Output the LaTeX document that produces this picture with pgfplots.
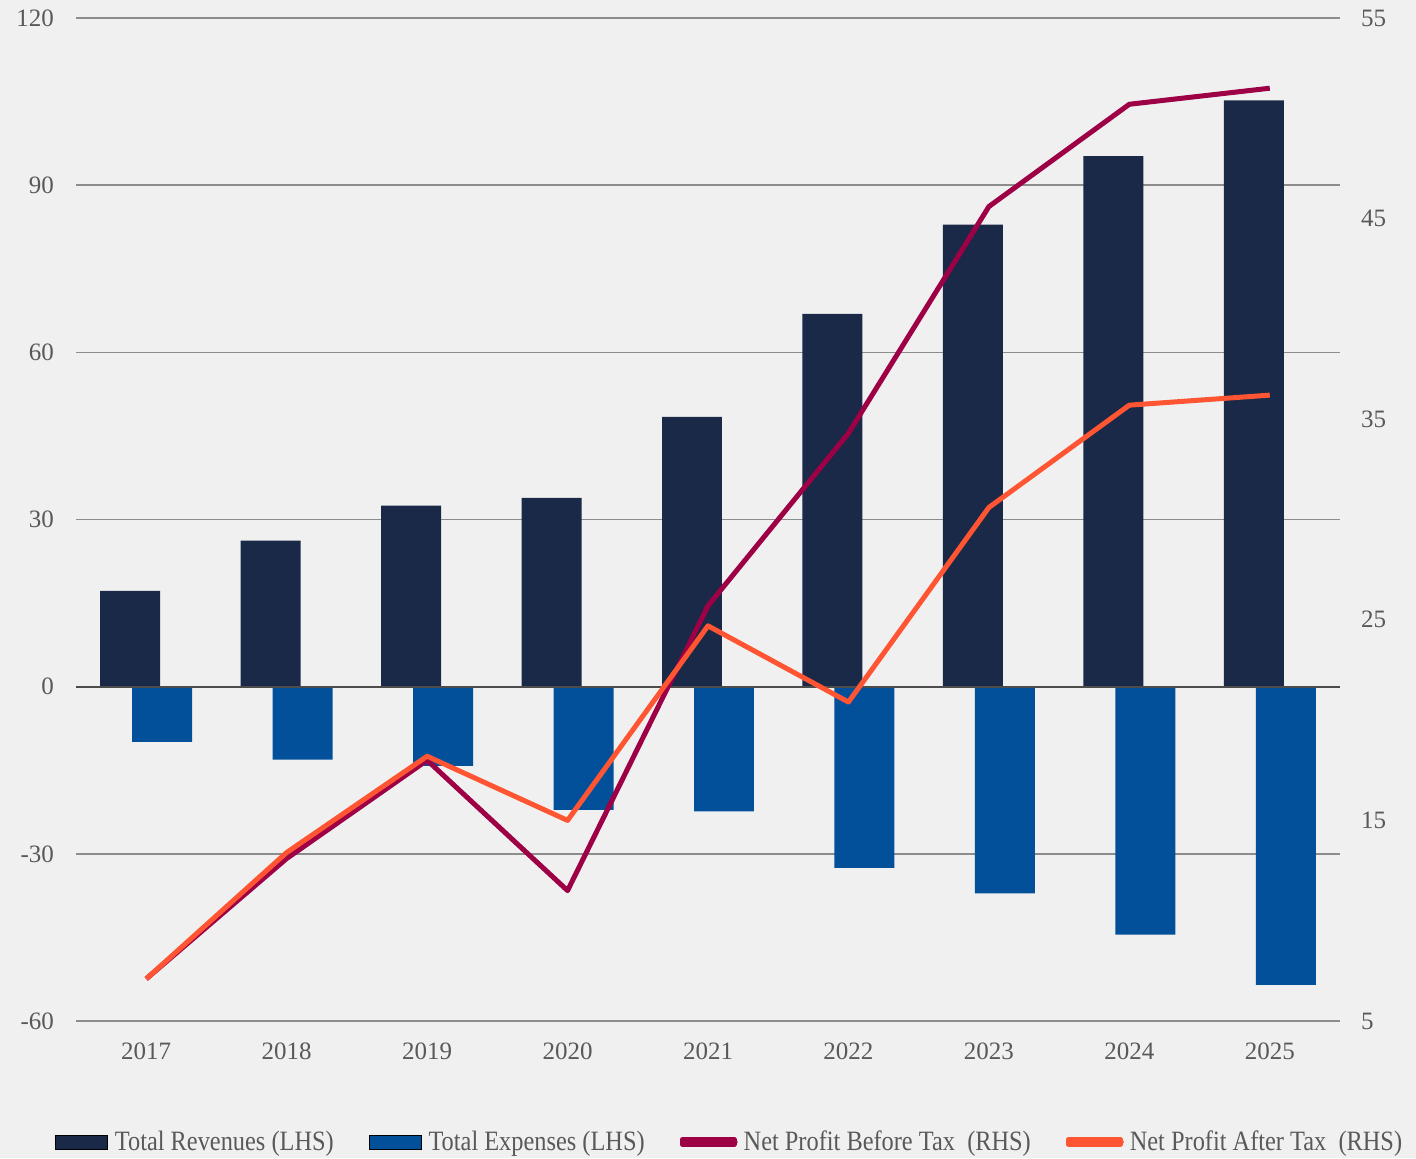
\documentclass[border=0pt]{standalone}
\usepackage{fontspec}
\setmainfont{Liberation Serif}
\newfontfamily\legfont[FakeStretch=0.87]{Liberation Serif}
\usepackage{pgfplots}
\usepackage{pgfplotstable}
\pgfplotsset{compat=1.18}

\definecolor{bg}{HTML}{F0F0F0}
\definecolor{rev}{HTML}{1A2947}
\definecolor{expc}{HTML}{02509A}
\definecolor{pbt}{HTML}{9E0045}
\definecolor{pat}{HTML}{FF5533}
\definecolor{txt}{HTML}{595959}
\definecolor{gridc}{HTML}{8C8C8C}

\pgfplotstableread{
x rev exp pbt pat
0 17.2 -9.9 7.1 7.1
1 26.2 -13.1 13.1 13.4
2 32.5 -14.2 18.0 18.2
3 33.9 -22.1 11.5 15.0
4 48.4 -22.4 25.7 24.7
5 66.9 -32.5 34.3 20.9
6 82.9 -37.1 45.6 30.6
7 95.2 -44.5 50.7 35.7
8 105.2 -53.5 51.5 36.2
}\data

\pgfplotsset{
  base/.style={
    scale only axis, width=632pt, height=501.5pt,
    at={(38pt,68.5pt)}, anchor=south west,
    xmin=-0.5, xmax=8.5,
    axis line style={draw=none},
    major tick length=0pt,
    tick label style={font=\fontsize{12.5}{14}\selectfont, text=txt},
    /pgf/number format/assume math mode=true,
  },
  barleg/.style={legend image code/.code={\fill[##1] (0pt,-3.5pt) rectangle (26pt,3.5pt);}},
  lineleg/.style={legend image code/.code={%
    \draw[##1, overlay, line width=2.3pt, line cap=round] (1.15pt,0pt) -- (26.6pt,0pt);
    \path (0pt,-1.2pt) rectangle (26pt,1.2pt);}},
}

\begin{document}
\begin{tikzpicture}
\fill[bg] (0,0) rectangle (708pt,579pt);

\begin{axis}[base,
  ymin=-60, ymax=120, ytick={-60,-30,0,30,60,90,120},
  ymajorgrids, grid style={gridc, line width=0.75pt},
  xtick=data, xticklabels={2017,2018,2019,2020,2021,2022,2023,2024,2025},
  xticklabel style={yshift=-7.5pt},
  yticklabel style={xshift=-7.5pt},
  yticklabels={-60,-30,0,30,60,90,120},
]
\addplot[ybar, bar width=0.427, bar shift=-0.114, fill=rev, draw=none] table[x=x, y=rev] {\data};
\addplot[ybar, bar width=0.427, bar shift=0.114, fill=expc, draw=none] table[x=x, y=exp] {\data};
\draw[color=black!70, line width=1pt] (axis cs:-0.5,0) -- (axis cs:8.5,0);
\end{axis}

\begin{axis}[base,
  ymin=5, ymax=55, ytick={5,15,25,35,45,55},
  axis y line*=right, axis x line=none,
  yticklabel style={xshift=7pt},
  legend columns=4,
  legend style={at={(0.5175,-0.1206)}, anchor=center, draw=none, fill=none,
    font=\legfont\fontsize{14}{16}\selectfont, text=txt,
    nodes={inner sep=1.5pt},
    /tikz/every odd column/.append style={column sep=2pt},
    /tikz/every even column/.append style={column sep=16pt}},
  legend cell align=left,
]
\addlegendimage{barleg, fill=rev}
\addlegendentry{Total Revenues (LHS)}
\addlegendimage{barleg, fill=expc}
\addlegendentry{Total Expenses (LHS)}
\addplot[pbt, line width=2.5pt, line join=round, lineleg] table[x=x, y=pbt] {\data};
\addlegendentry{Net Profit Before Tax~ (RHS)}
\addplot[pat, line width=2.5pt, line join=round, lineleg] table[x=x, y=pat] {\data};
\addlegendentry{Net Profit After Tax~ (RHS)}
\end{axis}

\pgfresetboundingbox
\path (0,0) rectangle (708pt,579pt);
\end{tikzpicture}
\end{document}
